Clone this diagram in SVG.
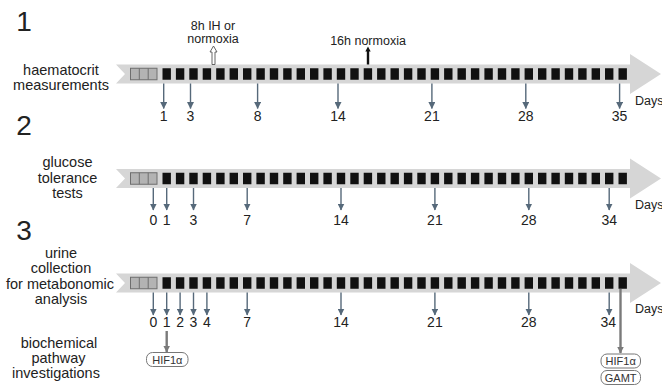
<svg xmlns="http://www.w3.org/2000/svg" xmlns:xlink="http://www.w3.org/1999/xlink" width="662" height="387" viewBox="0 0 662 387">
<style>
text{font-family:"Liberation Sans",Arial,sans-serif;fill:#222}
.num{font-size:28px;text-anchor:middle}
.lbl{font-size:14.5px;text-anchor:middle}
.day{font-size:14px;text-anchor:middle}
.days{font-size:12.5px}
.note{font-size:12.5px;text-anchor:middle}
.box{fill:#fff;stroke:#777;stroke-width:1}
.boxt{font-size:11px;text-anchor:middle;fill:#333}
.dn{stroke:#56697a;stroke-width:1.4;fill:none;marker-end:url(#ah)}
.gr{stroke:#7a7a7a;stroke-width:2.4;fill:none;marker-end:url(#ahg)}
</style>
<defs>
<marker id="ah" markerUnits="userSpaceOnUse" markerWidth="7" markerHeight="7" refX="6.5" refY="3.5" orient="auto"><path d="M0,0 L7,3.5 L0,7 Z" fill="#56697a"/></marker>
<marker id="ahg" markerUnits="userSpaceOnUse" markerWidth="7" markerHeight="7" refX="6.5" refY="3.5" orient="auto"><path d="M0,0 L7,3.5 L0,7 Z" fill="#7a7a7a"/></marker>
<path id="band" d="M116,-9.5 L630,-9.5 L630,-20 L661,0 L630,20 L630,9.5 L116,9.5 L125,0 Z" fill="#d6d6d6"/>
<g id="grey">
<rect x="130.5" y="-5.75" width="26.5" height="11.5" fill="#b3b3b3" stroke="#6e6e6e" stroke-width="1"/>
<line x1="139.3" y1="-5.75" x2="139.3" y2="5.75" stroke="#6e6e6e" stroke-width="1"/>
<line x1="148.2" y1="-5.75" x2="148.2" y2="5.75" stroke="#6e6e6e" stroke-width="1"/>
</g>
<g id="sq" fill="#111">
<rect x="162.5" y="-5.75" width="8.4" height="11.5"/><rect x="175.9" y="-5.75" width="8.4" height="11.5"/><rect x="189.3" y="-5.75" width="8.4" height="11.5"/><rect x="202.7" y="-5.75" width="8.4" height="11.5"/><rect x="216.2" y="-5.75" width="8.4" height="11.5"/><rect x="229.6" y="-5.75" width="8.4" height="11.5"/><rect x="243.0" y="-5.75" width="8.4" height="11.5"/><rect x="256.4" y="-5.75" width="8.4" height="11.5"/><rect x="269.8" y="-5.75" width="8.4" height="11.5"/><rect x="283.2" y="-5.75" width="8.4" height="11.5"/><rect x="296.6" y="-5.75" width="8.4" height="11.5"/><rect x="310.0" y="-5.75" width="8.4" height="11.5"/><rect x="323.4" y="-5.75" width="8.4" height="11.5"/><rect x="336.8" y="-5.75" width="8.4" height="11.5"/><rect x="350.3" y="-5.75" width="8.4" height="11.5"/><rect x="363.7" y="-5.75" width="8.4" height="11.5"/><rect x="377.1" y="-5.75" width="8.4" height="11.5"/><rect x="390.5" y="-5.75" width="8.4" height="11.5"/><rect x="403.9" y="-5.75" width="8.4" height="11.5"/><rect x="417.3" y="-5.75" width="8.4" height="11.5"/><rect x="430.7" y="-5.75" width="8.4" height="11.5"/><rect x="444.1" y="-5.75" width="8.4" height="11.5"/><rect x="457.5" y="-5.75" width="8.4" height="11.5"/><rect x="470.9" y="-5.75" width="8.4" height="11.5"/><rect x="484.4" y="-5.75" width="8.4" height="11.5"/><rect x="497.8" y="-5.75" width="8.4" height="11.5"/><rect x="511.2" y="-5.75" width="8.4" height="11.5"/><rect x="524.6" y="-5.75" width="8.4" height="11.5"/><rect x="538.0" y="-5.75" width="8.4" height="11.5"/><rect x="551.4" y="-5.75" width="8.4" height="11.5"/><rect x="564.8" y="-5.75" width="8.4" height="11.5"/><rect x="578.2" y="-5.75" width="8.4" height="11.5"/><rect x="591.6" y="-5.75" width="8.4" height="11.5"/><rect x="605.0" y="-5.75" width="8.4" height="11.5"/><rect x="618.5" y="-5.75" width="8.4" height="11.5"/>
</g>
</defs>

<g id="section1">
<text class="num" x="24" y="31">1</text>
<text class="lbl" x="61" y="74.5">haematocrit</text>
<text class="lbl" x="61" y="89.5">measurements</text>
<g transform="translate(0,74)"><use xlink:href="#band"/><use xlink:href="#grey"/><use xlink:href="#sq"/></g>
<text class="days" x="635" y="105">Days</text>
</g>
<g id="ann-8h">
<text class="note" x="213" y="30">8h IH or</text>
<text class="note" x="213" y="43">normoxia</text>
<polygon points="212,64.5 212,52 210,52 213.5,46 217,52 215,52 215,64.5" fill="#fff" stroke="#555" stroke-width="0.9"/>
</g>
<g id="ann-16h">
<text class="note" x="368" y="45">16h normoxia</text>
<polygon points="366.8,64.5 366.8,51.5 365.3,51.5 368,46.5 370.7,51.5 369.2,51.5 369.2,64.5" fill="#111"/>
</g>

<g id="section2">
<text class="num" x="24" y="135">2</text>
<text class="lbl" x="67.5" y="167">glucose</text>
<text class="lbl" x="67.5" y="182.5">tolerance</text>
<text class="lbl" x="67.5" y="198">tests</text>
<g transform="translate(0,178.5)"><use xlink:href="#band"/><use xlink:href="#grey"/><use xlink:href="#sq"/></g>
<text class="days" x="635" y="209">Days</text>
</g>

<g id="section3">
<text class="num" x="24" y="240">3</text>
<text class="lbl" x="61" y="258">urine</text>
<text class="lbl" x="61" y="273">collection</text>
<text class="lbl" x="60" y="288.5">for metabonomic</text>
<text class="lbl" x="61" y="303.5">analysis</text>
<g transform="translate(0,283)"><use xlink:href="#band"/><use xlink:href="#grey"/><use xlink:href="#sq"/></g>
<text class="days" x="635" y="313">Days</text>
</g>

<g id="section4">
<text class="lbl" x="59" y="348">biochemical</text>
<text class="lbl" x="58.5" y="363">pathway</text>
<text class="lbl" x="56" y="378">investigations</text>
</g>

<g id="connectors">
<line class="dn" x1="163.7" y1="83.5" x2="163.7" y2="108.5"/>
<line class="dn" x1="190.5" y1="83.5" x2="190.5" y2="108.5"/>
<line class="dn" x1="257.6" y1="83.5" x2="257.6" y2="108.5"/>
<line class="dn" x1="338" y1="83.5" x2="338" y2="108.5"/>
<line class="dn" x1="431.9" y1="83.5" x2="431.9" y2="108.5"/>
<line class="dn" x1="525.8" y1="83.5" x2="525.8" y2="108.5"/>
<line class="dn" x1="619.6" y1="83.5" x2="619.6" y2="108.5"/>

<line class="dn" x1="153.3" y1="188" x2="153.3" y2="210"/>
<line class="dn" x1="166.7" y1="188" x2="166.7" y2="210"/>
<line class="dn" x1="193.5" y1="188" x2="193.5" y2="210"/>
<line class="dn" x1="247.2" y1="188" x2="247.2" y2="210"/>
<line class="dn" x1="341" y1="188" x2="341" y2="210"/>
<line class="dn" x1="434.9" y1="188" x2="434.9" y2="210"/>
<line class="dn" x1="528.8" y1="188" x2="528.8" y2="210"/>
<line class="dn" x1="609.2" y1="188" x2="609.2" y2="210"/>

<line class="dn" x1="153.3" y1="292.5" x2="153.3" y2="315"/>
<line class="dn" x1="166.7" y1="292.5" x2="166.7" y2="315"/>
<line class="dn" x1="180.1" y1="292.5" x2="180.1" y2="315"/>
<line class="dn" x1="193.5" y1="292.5" x2="193.5" y2="315"/>
<line class="dn" x1="206.9" y1="292.5" x2="206.9" y2="315"/>
<line class="dn" x1="247.2" y1="292.5" x2="247.2" y2="315"/>
<line class="dn" x1="341" y1="292.5" x2="341" y2="315"/>
<line class="dn" x1="434.9" y1="292.5" x2="434.9" y2="315"/>
<line class="dn" x1="528.8" y1="292.5" x2="528.8" y2="315"/>
<line class="dn" x1="609.2" y1="292.5" x2="609.2" y2="315"/>

<line class="gr" x1="166.7" y1="331" x2="166.7" y2="352"/>
<line class="gr" x1="620.5" y1="289" x2="620.5" y2="353"/>
</g>

<g id="daylabels">
<text class="day" x="163.7" y="120.5">1</text>
<text class="day" x="190.5" y="120.5">3</text>
<text class="day" x="257.6" y="120.5">8</text>
<text class="day" x="338" y="120.5">14</text>
<text class="day" x="431.9" y="120.5">21</text>
<text class="day" x="525.8" y="120.5">28</text>
<text class="day" x="619.6" y="120.5">35</text>

<text class="day" x="153.3" y="225">0</text>
<text class="day" x="166.7" y="225">1</text>
<text class="day" x="193.5" y="225">3</text>
<text class="day" x="247.2" y="225">7</text>
<text class="day" x="341" y="225">14</text>
<text class="day" x="434.9" y="225">21</text>
<text class="day" x="528.8" y="225">28</text>
<text class="day" x="609.2" y="225">34</text>

<text class="day" x="153.3" y="327">0</text>
<text class="day" x="166.7" y="327">1</text>
<text class="day" x="180.1" y="327">2</text>
<text class="day" x="193.5" y="327">3</text>
<text class="day" x="206.9" y="327">4</text>
<text class="day" x="247.2" y="327">7</text>
<text class="day" x="341" y="327">14</text>
<text class="day" x="434.9" y="327">21</text>
<text class="day" x="528.8" y="327">28</text>
<text class="day" x="608.3" y="327">34</text>
</g>

<g id="hif-day1">
<rect class="box" x="146.5" y="352.5" width="41.5" height="14" rx="6"/>
<text class="boxt" x="167.3" y="363.5">HIF1α</text>
</g>
<g id="hif-day35">
<rect class="box" x="601" y="354" width="39.5" height="14" rx="6"/>
<text class="boxt" x="620.7" y="365">HIF1α</text>
</g>
<g id="gamt-day35">
<rect class="box" x="601" y="370.5" width="39.5" height="14" rx="6"/>
<text class="boxt" x="620.7" y="381.5">GAMT</text>
</g>
</svg>
